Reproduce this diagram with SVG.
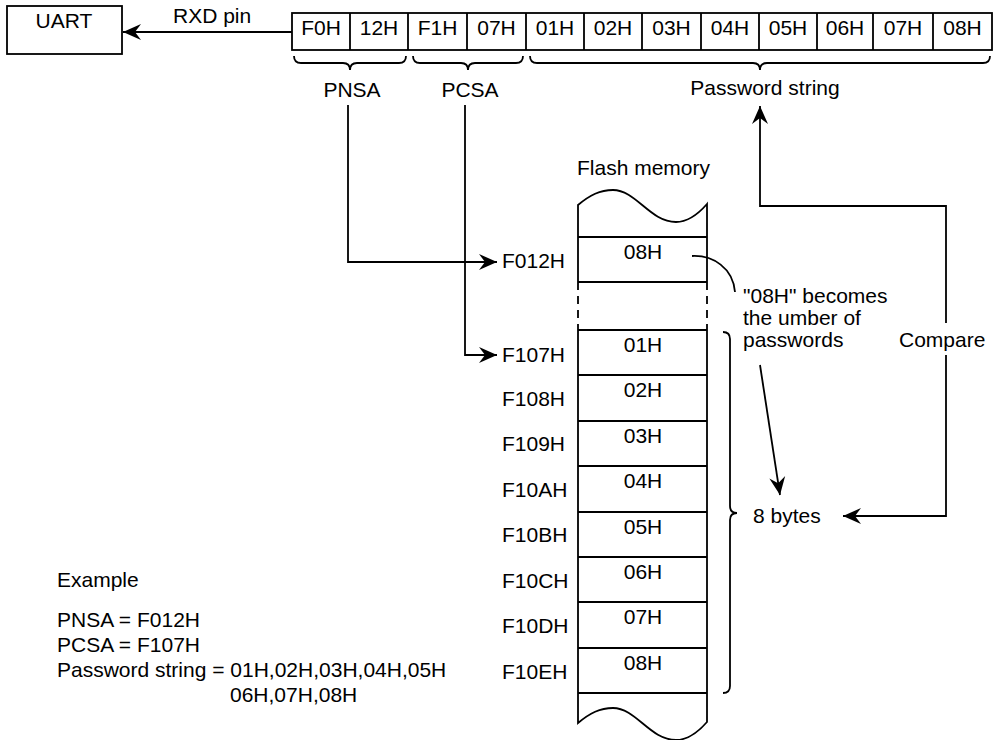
<svg xmlns="http://www.w3.org/2000/svg" width="994" height="740" viewBox="0 0 994 740">
<defs>
<style>
text{font-family:"Liberation Sans",Arial,sans-serif;font-size:21px;fill:#000}
.c{text-anchor:middle}
.ln{fill:none;stroke:#000;stroke-width:1.8}
.box{fill:#fff;stroke:#000;stroke-width:1.8}
</style>
<marker id="ah" viewBox="-19 -9 20 18" markerWidth="20" markerHeight="18" refX="0" refY="0" orient="auto" markerUnits="userSpaceOnUse">
<path d="M0,0 L-18,-8 L-12,0 L-18,8 Z" fill="#000"/>
</marker>
</defs>
<rect width="994" height="740" fill="#fff"/>

<g id="uart">
<rect class="box" x="7" y="6" width="115" height="48"/>
<text class="c" x="64" y="28">UART</text>
</g>

<g id="bytes">
<rect class="box" x="292" y="13" width="700" height="37"/>
<path class="ln" d="M350,13V50M408,13V50M467,13V50M526,13V50M584,13V50M642,13V50M701,13V50M759,13V50M817,13V50M873,13V50M933,13V50"/>
<text class="c" x="321" y="35">F0H</text>
<text class="c" x="379" y="35">12H</text>
<text class="c" x="437.5" y="35">F1H</text>
<text class="c" x="496.5" y="35">07H</text>
<text class="c" x="555" y="35">01H</text>
<text class="c" x="613" y="35">02H</text>
<text class="c" x="671.5" y="35">03H</text>
<text class="c" x="730" y="35">04H</text>
<text class="c" x="788" y="35">05H</text>
<text class="c" x="845" y="35">06H</text>
<text class="c" x="903" y="35">07H</text>
<text class="c" x="962.5" y="35">08H</text>
</g>

<g id="braces">
<path class="ln" d="M294,56 Q294,63 301,63 L343,63 Q350,63 350,70 Q350,63 357,63 L399,63 Q406,63 406,56"/>
<path class="ln" d="M413,56 Q413,63 420,63 L461,63 Q468,63 468,70 Q468,63 475,63 L516,63 Q523,63 523,56"/>
<path class="ln" d="M530,56 Q530,63 537,63 L753,63 Q760,63 760,70 Q760,63 767,63 L983,63 Q990,63 990,56"/>
<path class="ln" d="M723,332 Q730,332 730,339 L730,506 Q730,513 737,513 Q730,513 730,520 L730,686 Q730,693 723,693"/>
</g>

<g id="labels">
<text x="173" y="23">RXD pin</text>
<text class="c" x="352" y="97">PNSA</text>
<text class="c" x="470" y="97">PCSA</text>
<text class="c" x="765" y="95">Password string</text>
<text x="577" y="175">Flash memory</text>
<text x="743" y="303">"08H" becomes</text>
<text x="743" y="325">the umber of</text>
<text x="743" y="347">passwords</text>
<text x="899" y="347">Compare</text>
<text x="753" y="523">8 bytes</text>
</g>

<g id="memory">
<path class="ln" d="M578,282 V205 C590,195 600,190 613,190 C636,190 650,222 676,222 C690,222 700,212 707,204 V282"/>
<path class="ln" d="M578,282 V330 M707,282 V330" stroke-dasharray="8,6"/>
<path class="ln" d="M578,330 V723 C590,713 600,708 613,708 C636,708 650,740 676,740 C690,740 700,730 707,722 V330"/>
<path class="ln" d="M578,237H707M578,282H707M578,330H707M578,375H707M578,421H707M578,466H707M578,512H707M578,557H707M578,602H707M578,648H707M578,693H707"/>
<text class="c" x="643" y="259">08H</text>
<text class="c" x="643" y="352">01H</text>
<text class="c" x="643" y="397">02H</text>
<text class="c" x="643" y="443">03H</text>
<text class="c" x="643" y="488">04H</text>
<text class="c" x="643" y="534">05H</text>
<text class="c" x="643" y="579">06H</text>
<text class="c" x="643" y="624">07H</text>
<text class="c" x="643" y="670">08H</text>
</g>

<g id="addresses">
<text x="502" y="268">F012H</text>
<text x="502" y="362">F107H</text>
<text x="502" y="406">F108H</text>
<text x="502" y="451">F109H</text>
<text x="502" y="497">F10AH</text>
<text x="502" y="542">F10BH</text>
<text x="502" y="588">F10CH</text>
<text x="502" y="633">F10DH</text>
<text x="502" y="679">F10EH</text>
</g>

<g id="example">
<text x="57" y="587">Example</text>
<text x="57" y="627">PNSA = F012H</text>
<text x="57" y="652">PCSA = F107H</text>
<text x="57" y="677">Password string = 01H,02H,03H,04H,05H</text>
<text x="230" y="702">06H,07H,08H</text>
</g>

<g id="connectors">
<path class="ln" d="M292,32 H123" marker-end="url(#ah)"/>
<path class="ln" d="M348,105 V262 H497" marker-end="url(#ah)"/>
<path class="ln" d="M465,105 V355 H497" marker-end="url(#ah)"/>
<path class="ln" d="M946,355 V516 H843" marker-end="url(#ah)"/>
<path class="ln" d="M946,323 V206 H760 V106" marker-end="url(#ah)"/>
<path class="ln" d="M692,256 C713,255 733,268 735,292"/>
<path class="ln" d="M760,365 L780,495" marker-end="url(#ah)"/>
</g>
</svg>
